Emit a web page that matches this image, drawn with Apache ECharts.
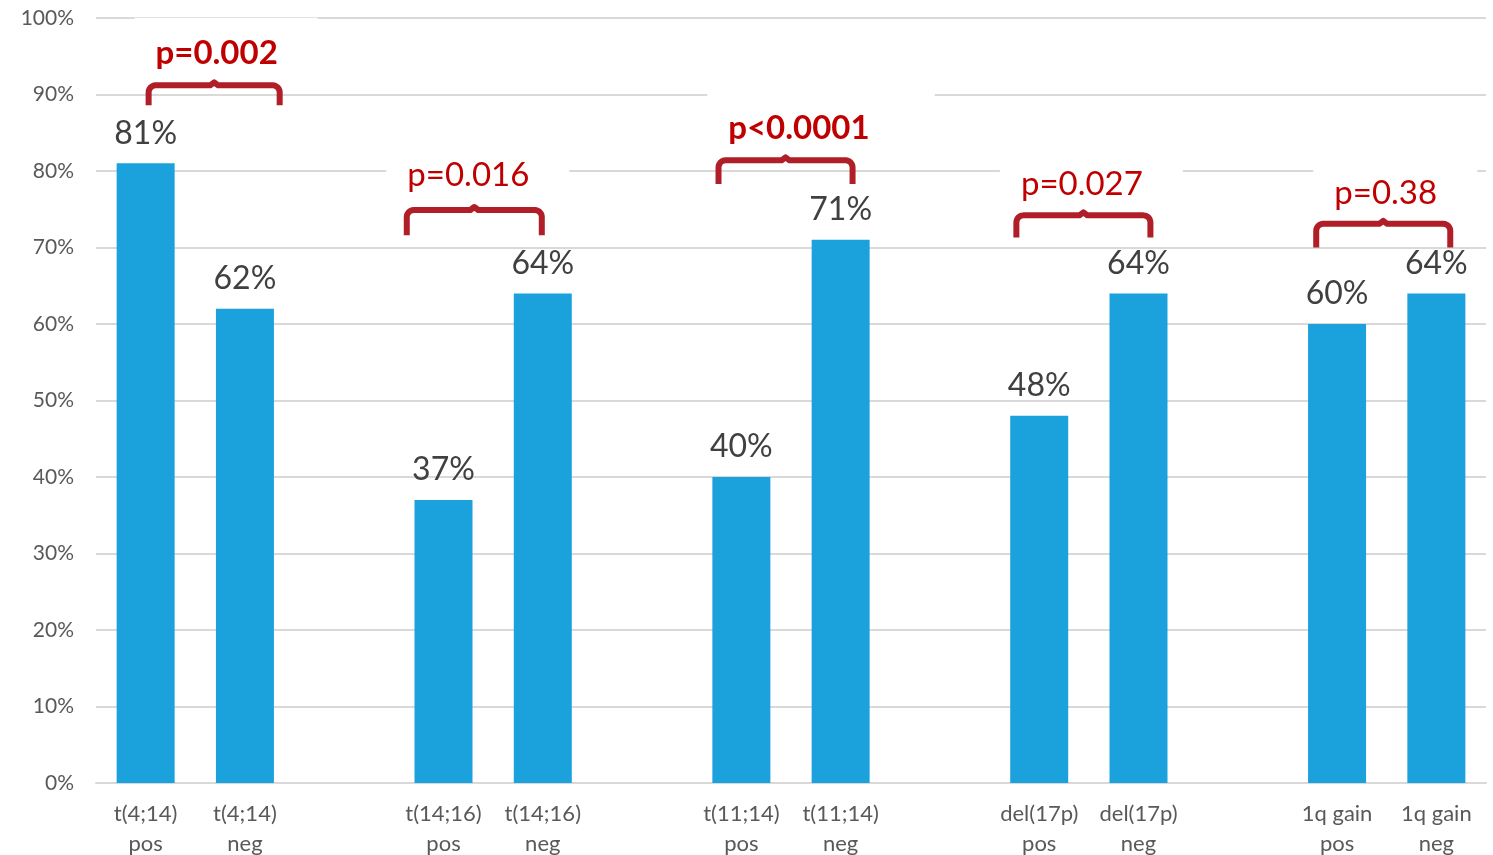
<!DOCTYPE html>
<html>
<head>
<meta charset="utf-8">
<script src="https://cdn.jsdelivr.net/npm/echarts@6/dist/echarts.min.js"></script>
<style>
  html, body { margin: 0; padding: 0; background: #fff; }
  #chart { width: 1493px; height: 855px; }
</style>
</head>
<body>
<div id="chart"></div>
<script>
// Categories: five markers, each positive / negative, separated by an empty slot
const categories = [
  't(4;14)\npos', 't(4;14)\nneg', '',
  't(14;16)\npos', 't(14;16)\nneg', '',
  't(11;14)\npos', 't(11;14)\nneg', '',
  'del(17p)\npos', 'del(17p)\nneg', '',
  '1q gain\npos', '1q gain\nneg'
];
// Percentage per category (null = spacer slot)
const values = [81, 62, null, 37, 64, null, 40, 71, null, 48, 64, null, 60, 64];
// p-values comparing pos vs neg within each marker
const pValues = ['p=0.002', 'p=0.016', 'p<0.0001', 'p=0.027', 'p=0.38'];
const pBold = [true, false, true, false, false];
// Index of the "pos" bar for each comparison
const pairStart = [0, 3, 6, 9, 12];
const yTicks = [0, 10, 20, 30, 40, 50, 60, 70, 80, 90, 100];

// Annotation placement (category offsets from the pos bar, y in axis units)
const annoLayout = [
  { bx0: 0.03,  bx1: 1.35, bTop: 91.2, bBot: 88.6, tx: 0.715, ty: 95.4, padR: 40 },
  { bx0: -0.37, bx1: 0.99, bTop: 74.9, bBot: 71.6, tx: 0.25,  ty: 79.4, padR: 40 },
  { bx0: -0.23, bx1: 1.12, bTop: 81.4, bBot: 78.3, tx: 0.58,  ty: 85.6, padR: 65 },
  { bx0: -0.23, bx1: 1.12, bTop: 74.2, bBot: 71.3, tx: 0.43,  ty: 78.2, padR: 40 },
  { bx0: -0.21, bx1: 1.14, bTop: 73.1, bBot: 70.0, tx: 0.49,  ty: 77.1, padR: 40 }
];
const PAD_L = 21;

const FONT = 'Lato, "Open Sans", sans-serif';
const chart = echarts.init(document.getElementById('chart'), null, { renderer: 'canvas' });

chart.setOption({
  animation: false,
  backgroundColor: '#ffffff',
  grid: { left: 96, right: 7, top: 18, bottom: 72, containLabel: false, outerBoundsMode: 'none' },
  xAxis: {
    type: 'category',
    data: categories,
    axisLine: { show: true, lineStyle: { color: '#d9d9d9', width: 2 } },
    axisTick: { show: false },
    axisLabel: {
      color: '#595959', fontFamily: FONT, fontSize: 22, lineHeight: 30,
      margin: 16, interval: 0
    }
  },
  yAxis: {
    type: 'value',
    min: 0, max: 100, interval: 10,
    axisLine: { show: false },
    axisTick: { show: false },
    splitLine: { lineStyle: { color: '#d9d9d9', width: 2 } },
    axisLabel: {
      color: '#595959', fontFamily: FONT, fontSize: 21, margin: 22,
      formatter: v => yTicks.includes(v) ? v + '%' : ''
    }
  },
  series: [{
    type: 'bar',
    data: values,
    barWidth: 58,
    itemStyle: { color: '#1ba1db' },
    label: {
      show: true, position: 'top', distance: 14,
      color: '#404040', fontFamily: FONT, fontSize: 32,
      formatter: p => p.value + '%'
    }
  }]
});

// Quarter-circle points for a rounded bracket corner
function arcPoints(cx, cy, r, a0, a1, n) {
  const pts = [];
  for (let s = 0; s <= n; s++) {
    const a = a0 + (a1 - a0) * s / n;
    pts.push([cx + r * Math.cos(a), cy + r * Math.sin(a)]);
  }
  return pts;
}

// Draw the significance brackets and p-value captions in pixel space
function drawAnnotations() {
  const px = (i, v) => chart.convertToPixel({ seriesIndex: 0 }, [i, v]);
  const band = px(1, 0)[0] - px(0, 0)[0];
  const elements = [];
  annoLayout.forEach((a, k) => {
    const i0 = pairStart[k];
    const base = px(i0, 0)[0];
    const x0 = base + a.bx0 * band;
    const x1 = base + a.bx1 * band;
    const yT = px(i0, a.bTop)[1];
    const yB = px(i0, a.bBot)[1];
    const xm = (x0 + x1) / 2;
    const r = 7;
    const points = [[x0, yB]]
      .concat(arcPoints(x0 + r, yT + r, r, Math.PI, 1.5 * Math.PI, 6))
      .concat([[xm - 4, yT], [xm, yT - 3], [xm + 4, yT]])
      .concat(arcPoints(x1 - r, yT + r, r, 1.5 * Math.PI, 2 * Math.PI, 6))
      .concat([[x1, yB]]);
    // the caption box is padded unevenly, so shift it to keep the text centred
    const tx = base + a.tx * band + (a.padR - PAD_L) / 2;
    const ty = px(i0, a.ty)[1];
    elements.push({
      type: 'text', z: 50,
      x: tx, y: ty,
      style: {
        text: pValues[k],
        fill: '#c00000',
        font: (pBold[k] ? 'bold ' : '') + '33px ' + FONT,
        align: 'center', verticalAlign: 'middle',
        backgroundColor: '#ffffff',
        padding: [19, a.padR, 19, PAD_L]
      }
    });
    elements.push({
      type: 'polyline', z: 60,
      shape: { points },
      style: { fill: null, stroke: '#b01e28', lineWidth: 6, lineJoin: 'round' }
    });
  });
  chart.setOption({ graphic: { elements } });
}
drawAnnotations();
</script>
</body>
</html>
